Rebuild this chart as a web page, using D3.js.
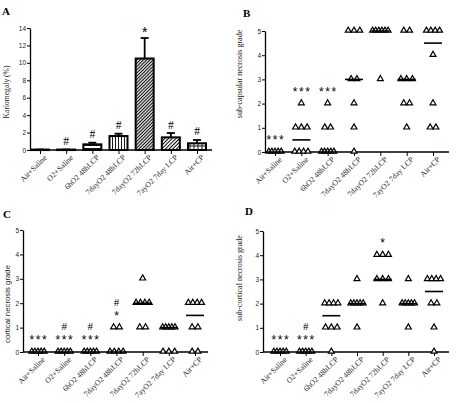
<!DOCTYPE html>
<html><head><meta charset="utf-8">
<script src="https://cdn.jsdelivr.net/npm/d3@7"></script>
<style>body{margin:0;background:#fff}</style></head>
<body><svg id="c" width="464" height="403"></svg>
<script>
// ---------- data ----------
const categories = ["Air+Saline","O2+Saline","6hO2 48hLCP","7dayO2 48hLCP","7dayO2 72hLCP","7ayO2 7day LCP","Air+CP"];
const karioMean = [0.05, 0.05, 0.65, 1.6, 10.5, 1.45, 0.77];
const karioErrTop = [0.05, 0.05, 0.84, 1.87, 12.85, 1.95, 1.15];
const karioMarks = ["", "#", "#", "#", "*", "#", "#"];
const karioPatterns = ["none","none","ph","pv","pd1","pd2","pg"];
const karioTicks = [0, 2, 4, 6, 8, 10, 12, 14];
const gradeTicks = [0, 1, 2, 3, 4, 5];

const subCapsular = [[0,0,0,0,0],[0,0,0,0,1,1,1,2],[0,0,0,0,0,1,1,2],[0,1,2,3,3,5,5,5],[3,5,5,5,5,5,5],[1,2,2,3,3,3,5,5],[1,1,2,4,5,5,5,5]];
const subCapsularMarks = [["***"],["***"],["***"],[],[],[],[]];
const cortical = [[0,0,0,0,0],[0,0,0,0,0],[0,0,0,0,0],[0,0,0,0,1,1],[1,1,2,2,2,2,3],[0,0,0,1,1,1,1,1],[0,0,1,1,2,2,2,2]];
const corticalMarks = [["***"],["***","#"],["***","#"],["*","#"],[],[],[]];
const subCortical = [[0,0,0,0,0],[0,0,0,0,0],[0,1,1,1,2,2,2,2],[1,2,2,2,2,2,3],[2,3,3,3,4,4,4],[1,2,2,2,2,2,3],[0,1,2,2,3,3,3,3]];
const subCorticalMarks = [["***"],["***","#"],[],[],["*"],[],[]];

// ---------- drawing ----------
const svg = d3.select("#c");
const SERIF = "'Liberation Serif','DejaVu Serif',serif";
const SANS = "'Liberation Sans',Arial,sans-serif";

const defs = svg.append("defs");
function pat(id, w, h, paths, rot, sw) {
  const p = defs.append("pattern").attr("id", id).attr("patternUnits","userSpaceOnUse")
    .attr("width", w).attr("height", h);
  if (rot) p.attr("patternTransform", "rotate(" + rot + ")");
  p.append("rect").attr("width", w).attr("height", h).attr("fill", "#fff");
  paths.forEach(d => p.append("path").attr("d", d).attr("stroke", "#000").attr("stroke-width", sw || 0.9).attr("fill","none"));
}
pat("ph", 4, 3, ["M0,1.5H4"]);
pat("pv", 3, 4, ["M1.5,0V4"]);
pat("pd1", 2.3, 4, ["M1.15,0V4"], 45, 1.1);
pat("pd2", 2.6, 4, ["M1.3,0V4"], 45, 1);
pat("pg", 4, 4, ["M0,2H4","M2,0V4"]);

function letter(t, x, y) {
  svg.append("text").attr("x", x).attr("y", y).text(t)
    .attr("font-family", SERIF).attr("font-weight", "bold").attr("font-size", 11);
}

function yAxis(g, scale, ticks, ax) {
  const a = g.append("g").attr("transform", `translate(${ax},0)`)
    .call(d3.axisLeft(scale).tickValues(ticks).tickFormat(d3.format("d")).tickSize(3).tickSizeOuter(0).tickPadding(1));
  a.select(".domain").attr("stroke-width", 1.3);
  a.selectAll(".tick line").attr("stroke-width", 1);
  a.selectAll("text").attr("font-family", SANS).attr("font-size", 6.5).attr("fill", "#222");
}

function xAxis(g, x, y0, ax, xEnd) {
  g.append("line").attr("x1", ax).attr("x2", xEnd).attr("y1", y0).attr("y2", y0)
    .attr("stroke", "#000").attr("stroke-width", 1.3);
  const a = g.append("g").attr("transform", `translate(0,${y0})`)
    .call(d3.axisBottom(x).tickSize(4).tickSizeOuter(0));
  a.select(".domain").remove();
  a.selectAll(".tick line").attr("stroke-width", 1);
  a.selectAll("text").attr("font-family", SERIF).attr("font-size", 7.8).attr("fill", "#222")
    .attr("text-anchor", "end").attr("x", 0).attr("y", 0).attr("dy", 0)
    .attr("transform", "translate(7,8) rotate(-45)");
}

function yLabel(text, x, y, font, size) {
  svg.append("text").attr("transform", `translate(${x},${y}) rotate(-90)`)
    .attr("text-anchor", "middle").attr("font-family", font).attr("font-size", size)
    .attr("fill", "#222").text(text);
}

function markText(g, t, cx, cy) {
  const star = t.indexOf("*") >= 0;
  const fs = star ? 12 : 11;
  g.append("text").attr("x", cx).attr("y", cy + (star ? 6.8 : 4))
    .attr("text-anchor", "middle")
    .attr("font-family", star ? SANS : SERIF).attr("font-size", fs)
    .attr("letter-spacing", star && t.length > 1 ? 1.6 : 0)
    .attr("dx", star && t.length > 1 ? 0.8 : 0)
    .text(t);
}

// ---------- Panel A ----------
(function () {
  const g = svg.append("g");
  const ax = 30, y0 = 150;
  const y = d3.scaleLinear().domain([0, 14]).range([y0, 28]);
  const x = d3.scalePoint().domain(categories).range([40, 197]);
  const bw = 18;
  categories.forEach((c, i) => {
    const cx = x(c);
    g.append("line").attr("x1", cx).attr("x2", cx).attr("y1", y(karioMean[i])).attr("y2", y(karioErrTop[i]))
      .attr("stroke", "#000").attr("stroke-width", 1.8);
    g.append("line").attr("x1", cx - 4).attr("x2", cx + 4).attr("y1", y(karioErrTop[i])).attr("y2", y(karioErrTop[i]))
      .attr("stroke", "#000").attr("stroke-width", 1.8);
    const top = y(karioMean[i]);
    g.append("rect").attr("x", cx - bw / 2).attr("y", top).attr("width", bw).attr("height", Math.max(0.5, y0 - top))
      .attr("fill", karioPatterns[i] === "none" ? "#fff" : `url(#${karioPatterns[i]})`)
      .attr("stroke", "#000").attr("stroke-width", 2);
    if (karioMarks[i]) {
      const star = karioMarks[i] === "*";
      g.append("text").attr("x", cx).attr("y", y(karioErrTop[i]) - (star ? 1.5 : 4.5))
        .attr("text-anchor", "middle").attr("font-family", star ? SANS : SERIF)
        .attr("font-size", star ? 14 : 11.5).text(karioMarks[i]);
    }
  });
  yAxis(g, y, karioTicks, ax);
  xAxis(g, x, y0, ax, 212);
  yLabel("Kariomegaly (%)", 9, 92, SERIF, 7.6);
  letter("A", 2, 15);
})();

// ---------- scatter panels ----------
function scatterPanel(cfg) {
  const g = svg.append("g");
  const y = d3.scaleLinear().domain([0, 5]).range([cfg.y0, cfg.y5]);
  const x = d3.scalePoint().domain(categories).range([cfg.x0, cfg.x1]);
  const tri = d3.symbol().type(d3.symbolTriangle).size(15);
  yAxis(g, y, gradeTicks, cfg.ax);
  xAxis(g, x, cfg.y0, cfg.ax, cfg.xEnd);
  categories.forEach((c, i) => {
    const vals = cfg.data[i];
    const cx = x(c);
    const groups = d3.groups(vals, v => v);
    groups.forEach(([v, arr]) => {
      const k = arr.length;
      const sp = k <= 3 ? 5.8 : (k === 4 ? 4.4 : 3.1);
      arr.forEach((_, j) => {
        g.append("path").attr("d", tri)
          .attr("transform", `translate(${cx + (j - (k - 1) / 2) * sp},${y(v) - 0.5})`)
          .attr("fill", "#fff").attr("stroke", "#000").attr("stroke-width", 1.2);
      });
    });
    const med = d3.median(vals);
    g.append("line").attr("x1", cx - 9).attr("x2", cx + 9).attr("y1", y(med)).attr("y2", y(med))
      .attr("stroke", "#000").attr("stroke-width", 1.6);
    const mx = d3.max(vals);
    cfg.marks[i].forEach((m, k) => markText(g, m, cx, y(mx + 0.6 + k * 0.46)));
  });
  yLabel(cfg.label, cfg.lx, cfg.ly, cfg.lfont, cfg.lsize);
  letter(cfg.letter, cfg.letX, cfg.letY);
}

scatterPanel({data: subCapsular, marks: subCapsularMarks, ax: 265, y0: 152, y5: 31, x0: 275, x1: 433, xEnd: 449,
  label: "sub-capsular necrosis grade", lx: 242, ly: 74, lfont: SERIF, lsize: 8, letter: "B", letX: 243, letY: 17});
scatterPanel({data: cortical, marks: corticalMarks, ax: 23, y0: 352, y5: 230, x0: 38, x1: 195, xEnd: 208,
  label: "cortical necrosis grade", lx: 10, ly: 304, lfont: SANS, lsize: 7.8, letter: "C", letX: 3, letY: 218});
scatterPanel({data: subCortical, marks: subCorticalMarks, ax: 263, y0: 352, y5: 231, x0: 280, x1: 434, xEnd: 449,
  label: "sub-cortical necrosis grade", lx: 242, ly: 278, lfont: SERIF, lsize: 8, letter: "D", letX: 245, letY: 215});
</script>
</body></html>
